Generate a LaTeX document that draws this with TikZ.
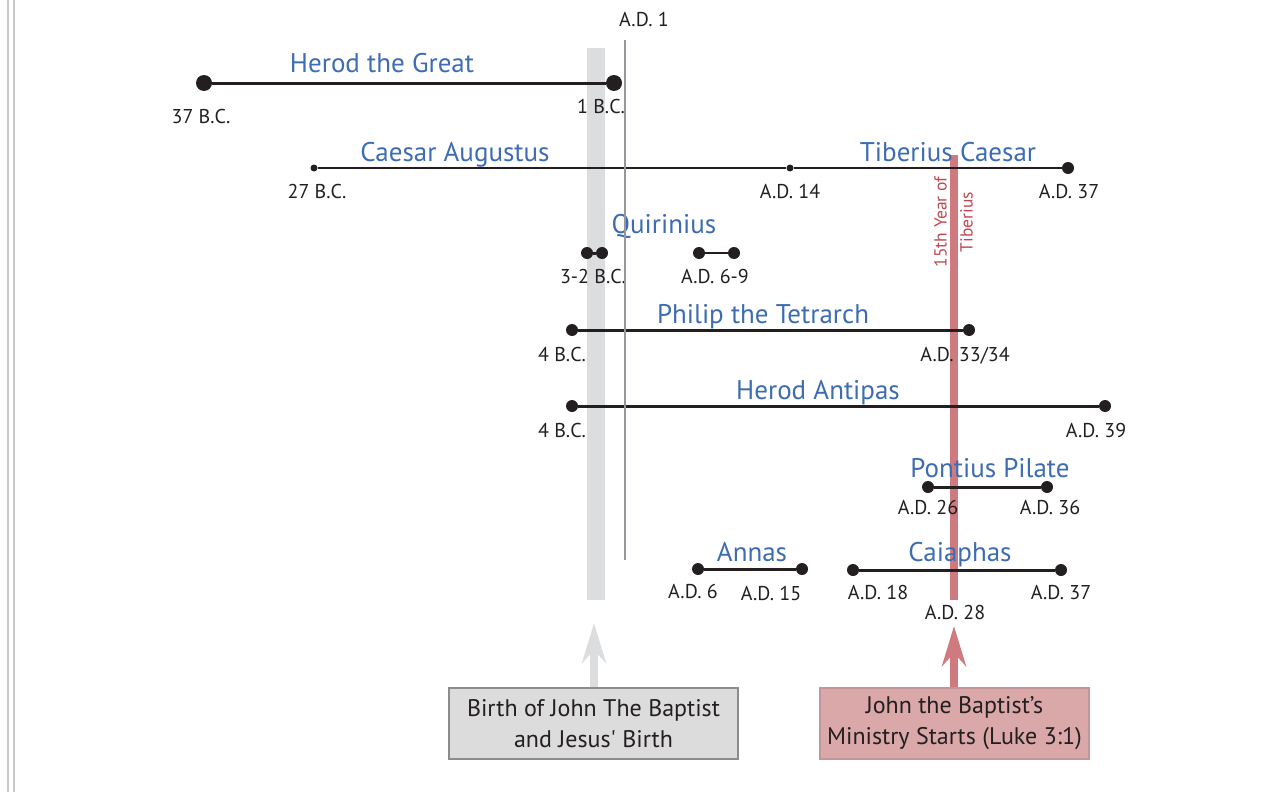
\documentclass[tikz,border=0pt]{standalone}
\usepackage{fontspec}
\setmainfont{PT Sans}[Ligatures=TeXOff]
\usetikzlibrary{arrows.meta}
\definecolor{ttblue}{RGB}{61,108,178}
\definecolor{ttdark}{RGB}{35,31,32}
\definecolor{bandgrey}{RGB}{220,221,223}
\definecolor{adgrey}{RGB}{150,150,156}
\definecolor{redbar}{RGB}{206,122,127}
\definecolor{redtext}{RGB}{190,72,82}
\definecolor{boxred}{RGB}{219,168,170}
\definecolor{boxredline}{RGB}{192,150,152}
\definecolor{boxgrey}{RGB}{220,220,221}
\definecolor{boxgreyline}{RGB}{140,140,140}
\definecolor{edgegrey}{RGB}{200,200,200}
\begin{document}
\begin{tikzpicture}[x=1pt,y=-1pt,
  dotbig/.style={circle,fill=ttdark,inner sep=0pt,minimum size=16pt},
  dotmid/.style={circle,fill=ttdark,inner sep=0pt,minimum size=12pt},
  dotsmall/.style={circle,fill=ttdark,inner sep=0pt,minimum size=7pt},
  span/.style={draw=ttdark,line width=3pt},
  thinspan/.style={draw=ttdark,line width=1.5pt},
  title/.style={text=ttblue,font=\fontsize{27}{30}\selectfont,inner sep=0pt,text height=19pt,text depth=0pt},
  date/.style={text=ttdark,font=\fontsize{20}{24}\selectfont,inner sep=0pt,text height=14pt,text depth=0pt},
  notebox/.style={draw,line width=1.2pt,minimum height=71pt,align=center,font=\fontsize{24}{31}\selectfont,text=ttdark},
  uparrow/.style={line width=8pt,-{Stealth[length=40pt,width=24pt,inset=13pt]}}
]
\useasboundingbox (0,0) rectangle (1263,792);
% page edge lines
\draw[edgegrey,line width=2pt] (8,0) -- (8,792);
\draw[edgegrey,line width=2pt] (13.5,0) -- (13.5,792);
% bands
\fill[bandgrey] (587,48) rectangle (604.5,600);
\fill[redbar] (949.5,155) rectangle (958,600);
\node[text=redtext,rotate=90,align=center,font=\fontsize{17.5}{26}\selectfont,inner sep=0pt] (yr15) at (953.5,222) {15th Year of\\Tiberius};

% Herod the Great
\node[dotbig] (h1) at (204,83) {};
\node[dotbig] (h2) at (614,83) {};
\draw[span] (h1) -- (h2);
\node[title] (tHerod) at (382,63) {Herod the Great};
\node[date] (d37bc) at (201,116) {37 B.C.};
\node[date] (d1bc) at (601,106) {1 B.C.};

% Caesar Augustus / Tiberius
\node[dotsmall] (c1) at (314,168) {};
\node[dotsmall] (c2) at (790,168) {};
\node[dotmid] (c3) at (1068,168) {};
\draw[thinspan] (c1) -- (c2) -- (c3);
\node[title] (tAug) at (455,152) {Caesar Augustus};
\node[title] (tTib) at (948,152) {Tiberius Caesar};
\node[date] (d27bc) at (317,191) {27 B.C.};
\node[date] (d14) at (790,191) {A.D. 14};
\node[date] (d37a) at (1069,191) {A.D. 37};

% Quirinius
\node[dotmid] (q1) at (587,253) {};
\node[dotmid] (q2) at (602,253) {};
\draw[span] (q1) -- (q2);
\node[dotmid] (q3) at (699,253) {};
\node[dotmid] (q4) at (734,253) {};
\draw[thinspan] (q3) -- (q4);
\node[title] (tQui) at (664,224) {Quirinius};
\node[date] (d32bc) at (593,276) {3-2 B.C.};
\node[date] (d69) at (715,276) {A.D. 6-9};

% Philip the Tetrarch
\node[dotmid] (p1) at (572,330) {};
\node[dotmid] (p2) at (969,330) {};
\draw[span] (p1) -- (p2);
\node[title] (tPhil) at (763,314) {Philip the Tetrarch};
\node[date] (d4bca) at (562,354) {4 B.C.};
\node[date] (d3334) at (965,354) {A.D. 33/34};

% Herod Antipas
\node[dotmid] (a1) at (572,406) {};
\node[dotmid] (a2) at (1105,406) {};
\draw[span] (a1) -- (a2);
\node[title] (tAnt) at (818,390) {Herod Antipas};
\node[date] (d4bcb) at (562,430) {4 B.C.};
\node[date] (d39) at (1096,430) {A.D. 39};

% Pontius Pilate
\node[dotmid] (pp1) at (928,487) {};
\node[dotmid] (pp2) at (1047,487) {};
\draw[span] (pp1) -- (pp2);
\node[title] (tPil) at (990,468) {Pontius Pilate};
\node[date] (d26) at (928,507) {A.D. 26};
\node[date] (d36) at (1050,507) {A.D. 36};

% Annas
\node[dotmid] (an1) at (698,569) {};
\node[dotmid] (an2) at (802,569) {};
\draw[span] (an1) -- (an2);
\node[title] (tAnn) at (752,552) {Annas};
\node[date] (d6) at (693,591) {A.D. 6};
\node[date] (d15) at (771,593) {A.D. 15};

% Caiaphas
\node[dotmid] (ca1) at (853,570) {};
\node[dotmid] (ca2) at (1061,570) {};
\draw[span] (ca1) -- (ca2);
\node[title] (tCai) at (960,552) {Caiaphas};
\node[date] (d18) at (878,592) {A.D. 18};
\node[date] (d37b) at (1061,592) {A.D. 37};
\node[date] (d28) at (955,612) {A.D. 28};

% A.D. 1 line
\coordinate (ad1top) at (625,40);
\coordinate (ad1bot) at (625,560);
\draw[adgrey,line width=2.5pt] (ad1top) -- (ad1bot);
\node[date] (dad1) at (644,20) {A.D. 1};

% boxes
\node[notebox,fill=boxgrey,draw=boxgreyline,minimum width=289pt] (box1) at (593.5,723.5) {Birth of John The Baptist\\and Jesus' Birth};
\node[notebox,fill=boxred,draw=boxredline,minimum width=269pt] (box2) at (954.5,723.5) {John the Baptist’s\\Ministry Starts (Luke 3:1)};

% arrows
\coordinate (gtip) at (594,623);
\coordinate (rtip) at (954,626);
\draw[uparrow,bandgrey] (box1.north -| gtip) -- (gtip);
\draw[uparrow,redbar] (box2.north -| rtip) -- (rtip);
\end{tikzpicture}
\end{document}
